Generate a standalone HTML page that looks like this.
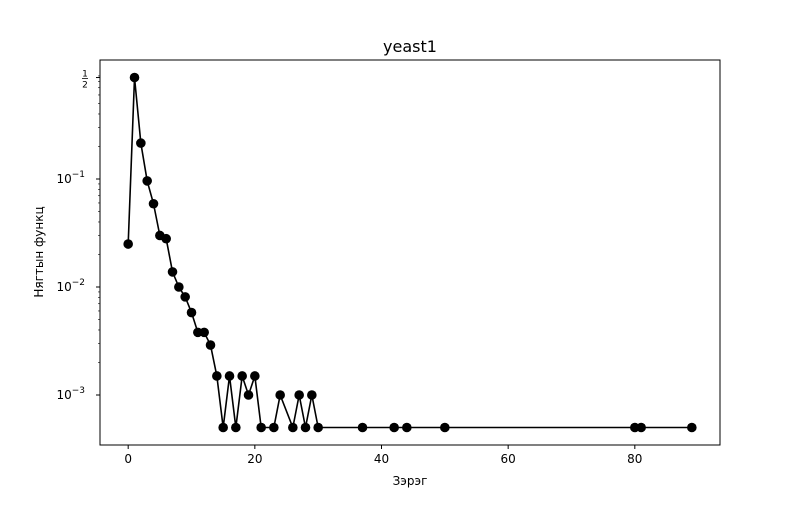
<!DOCTYPE html>
<html><head><meta charset="utf-8"><style>
body{margin:0;background:#fff;}
text{font-family:"DejaVu Sans","Liberation Sans",sans-serif;}
</style></head><body>
<svg id="c" width="800" height="500" xmlns="http://www.w3.org/2000/svg"></svg>
<script>
const xs=[0,1,2,3,4,5,6,7,8,9,10,11,12,13,14,15,16,17,18,19,20,21,23,24,26,27,28,29,30,37,42,44,50,80,81,89];
const ys=[0.025,0.87,0.215,0.096,0.059,0.030,0.028,0.0138,0.0100,0.0081,0.0058,0.0038,0.0038,0.0029,0.0015,0.0005,0.0015,0.0005,0.0015,0.001,0.0015,0.0005,0.0005,0.001,0.0005,0.001,0.0005,0.001,0.0005,0.0005,0.0005,0.0005,0.0005,0.0005,0.0005,0.0005];
const xTicks=[0,20,40,60,80];
const yMajor=[-3,-2,-1];
const L=100,R=720,T=60,B=445;
const xMin=-4.45,xMax=93.45;
const X=v=>L+(v-xMin)/(xMax-xMin)*(R-L);
const Y=v=>395-(Math.log10(v)+3)*108;
const svg=document.getElementById('c');
const NS='http://www.w3.org/2000/svg';
function mk(t,a,p){const e=document.createElementNS(NS,t);for(const k in a)e.setAttribute(k,a[k]);(p||svg).appendChild(e);return e;}
let t=mk('text',{x:410,y:52,'font-size':16,'text-anchor':'middle'});t.textContent='yeast1';


for(const v of xTicks){const x=X(v);
 let l=mk('line',{x1:x,x2:x,y1:B,y2:B+4,stroke:'#000'});
 
 
 let tx=mk('text',{x:x,y:B+18,'font-size':12,'text-anchor':'middle'});tx.textContent=v;
 
 }
for(const e of yMajor){
 for(let m=2;m<10;m++){const v=m*Math.pow(10,e);const y=Y(v);if(y<T||y>B)continue;
  let l=mk('line',{x1:L-2,x2:L,y1:y,y2:y,stroke:'#000','stroke-width':0.6});
  
  }
 const y=Y(Math.pow(10,e));
 let l=mk('line',{x1:L-4,x2:L,y1:y,y2:y,stroke:'#000'});
 
 
 let tx=mk('text',{x:L-7,y:y+4,'font-size':12,'text-anchor':'end'});
 
 
 tx.innerHTML='10<tspan dy="-6" font-size="9">'+'\u2212'+(-e)+'</tspan>';
 tx.setAttribute('dx',-8);
}
{const y=Y(ys[1]);let l=mk('line',{x1:L-4,x2:L,y1:y,y2:y,stroke:'#000'});
 
 
 let a=mk('text',{x:85,y:y-1,'font-size':9,'text-anchor':'middle'});a.textContent='1';
 
 
 let ln=mk('line',{x1:82,x2:88,y1:y+1,y2:y+1,stroke:'#000','stroke-width':0.8});
 
 
 let b=mk('text',{x:85,y:y+10,'font-size':9,'text-anchor':'middle'});b.textContent='2';
 
 }
let pl=mk('polyline',{points:xs.map((x,i)=>X(x)+','+Y(ys[i])).join(' '),fill:'none',stroke:'#000','stroke-width':1.6});


xs.forEach((x,i)=>{let c=mk('circle',{cx:X(x),cy:Y(ys[i]),r:4.8,fill:'#000'});
 
 });
let fr=mk('rect',{x:L,y:T,width:R-L,height:B-T,fill:'none',stroke:'#000','stroke-width':1});


let xl=mk('text',{x:410,y:485,'font-size':12,'text-anchor':'middle'});xl.textContent='Зэрэг';


let yl=mk('text',{x:47,y:252,'font-size':12,'text-anchor':'middle',transform:'rotate(-90 47 252)'});yl.textContent='Нягтын функц';


yl.setAttribute('x',43);
yl.setAttribute('transform','rotate(-90 43 252)');
</script>
</body></html>
